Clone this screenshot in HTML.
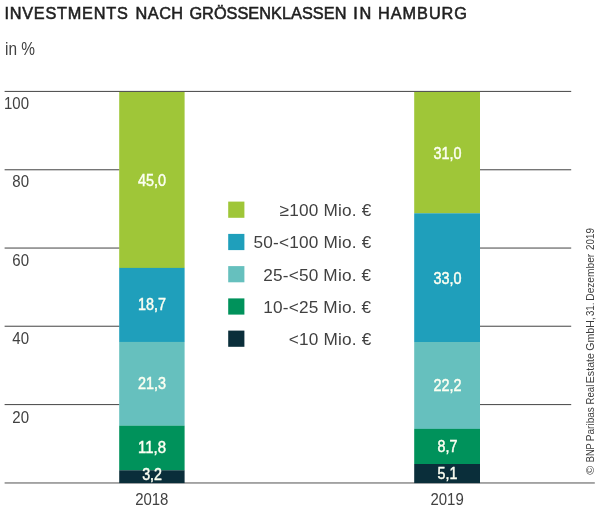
<!DOCTYPE html>
<html lang="de">
<head>
<meta charset="utf-8">
<title>Investments nach Größenklassen in Hamburg</title>
<style>
html,body{margin:0;padding:0;background:#fff;}
body{width:600px;height:514px;overflow:hidden;}
svg{display:block;}
text{font-family:"Liberation Sans",sans-serif;}
.title{font-size:16.3px;fill:#1f1f1f;stroke:#1f1f1f;stroke-width:0.55px;}
.sub{font-size:17.5px;fill:#414141;}
.ax{font-size:15.7px;fill:#414141;}
.leg{font-size:17.2px;fill:#414141;letter-spacing:0.2px;}
.val{font-size:15.7px;fill:#fcfff2;stroke:#fcfff2;stroke-width:0.45px;}
.src{font-size:11.3px;fill:#3c3c3c;}
</style>
</head>
<body>
<svg width="600" height="514" viewBox="0 0 600 514">
<rect x="0" y="0" width="600" height="514" fill="#ffffff"/>

<text class="title" y="18.7"><tspan x="4.4" textLength="123.4" lengthAdjust="spacing">INVESTMENTS</tspan> <tspan x="135.6" textLength="47.5" lengthAdjust="spacing">NACH</tspan> <tspan x="189.4" textLength="157" lengthAdjust="spacing">GRÖSSENKLASSEN</tspan> <tspan x="353.2" textLength="18" lengthAdjust="spacing">IN</tspan> <tspan x="378" textLength="89" lengthAdjust="spacing">HAMBURG</tspan></text>
<text class="sub" x="5" y="54.8" textLength="30" lengthAdjust="spacingAndGlyphs">in %</text>

<!-- grid lines -->
<g fill="#555555">
<rect x="4.6" y="90.9" width="566.6" height="1.1"/>
<rect x="4.6" y="169.2" width="115" height="1.1"/>
<rect x="4.6" y="247.5" width="115" height="1.1"/>
<rect x="4.6" y="325.7" width="115" height="1.1"/>
<rect x="4.6" y="404" width="115" height="1.1"/>
<rect x="480" y="169.2" width="91.2" height="1.1"/>
<rect x="480" y="247.5" width="91.2" height="1.1"/>
<rect x="480" y="325.7" width="91.2" height="1.1"/>
<rect x="480" y="404" width="91.2" height="1.1"/>
</g>
<rect x="4.6" y="482.2" width="590.2" height="1.5" fill="#8c8c8c"/>

<!-- y axis labels -->
<g class="ax" text-anchor="end">
<text x="29" y="108.9" textLength="25" lengthAdjust="spacingAndGlyphs">100</text>
<text x="29" y="187.2" textLength="16.7" lengthAdjust="spacingAndGlyphs">80</text>
<text x="29" y="265.6" textLength="16.7" lengthAdjust="spacingAndGlyphs">60</text>
<text x="29" y="343.9" textLength="16.7" lengthAdjust="spacingAndGlyphs">40</text>
<text x="29" y="422.5" textLength="16.7" lengthAdjust="spacingAndGlyphs">20</text>
</g>

<!-- bar 2018 -->
<g>
<rect x="119.2" y="92" width="65.4" height="176" fill="#9fc638"/>
<rect x="119.2" y="267.9" width="65.4" height="74.1" fill="#1f9fbb"/>
<rect x="119.2" y="341.9" width="65.4" height="83.9" fill="#66c0be"/>
<rect x="119.2" y="425.7" width="65.4" height="44.7" fill="#00925b"/>
<rect x="119.2" y="470.3" width="65.4" height="12.8" fill="#0a2e3a"/>
</g>
<!-- bar 2019 -->
<g>
<rect x="414.2" y="92" width="65.8" height="121.4" fill="#9fc638"/>
<rect x="414.2" y="213.3" width="65.8" height="128.8" fill="#1f9fbb"/>
<rect x="414.2" y="342" width="65.8" height="87" fill="#66c0be"/>
<rect x="414.2" y="428.9" width="65.8" height="35.2" fill="#00925b"/>
<rect x="414.2" y="464" width="65.8" height="19.1" fill="#0a2e3a"/>
</g>

<!-- values -->
<g class="val" text-anchor="middle">
<text x="152.1" y="185.7" textLength="28" lengthAdjust="spacingAndGlyphs">45,0</text>
<text x="152.1" y="310.2" textLength="28" lengthAdjust="spacingAndGlyphs">18,7</text>
<text x="152.1" y="389.2" textLength="28" lengthAdjust="spacingAndGlyphs">21,3</text>
<text x="152.1" y="453.2" textLength="28" lengthAdjust="spacingAndGlyphs">11,8</text>
<text x="152.1" y="479.6" textLength="19.8" lengthAdjust="spacingAndGlyphs">3,2</text>
<text x="447.5" y="159.4" textLength="28" lengthAdjust="spacingAndGlyphs">31,0</text>
<text x="447.5" y="284.1" textLength="28" lengthAdjust="spacingAndGlyphs">33,0</text>
<text x="447.5" y="391.3" textLength="28" lengthAdjust="spacingAndGlyphs">22,2</text>
<text x="447.5" y="451.6" textLength="19.8" lengthAdjust="spacingAndGlyphs">8,7</text>
<text x="447.5" y="479.3" textLength="19.8" lengthAdjust="spacingAndGlyphs">5,1</text>
</g>

<!-- x labels -->
<g class="ax" text-anchor="middle">
<text x="151.8" y="505.4" textLength="33.3" lengthAdjust="spacingAndGlyphs">2018</text>
<text x="447.1" y="505.4" textLength="33.3" lengthAdjust="spacingAndGlyphs">2019</text>
</g>

<!-- legend -->
<g>
<rect x="228.2" y="201.6" width="16.2" height="16.2" fill="#9fc638"/>
<rect x="228.2" y="233.9" width="16.2" height="16.2" fill="#1f9fbb"/>
<rect x="228.2" y="266.1" width="16.2" height="16.2" fill="#66c0be"/>
<rect x="228.2" y="298.4" width="16.2" height="16.2" fill="#00925b"/>
<rect x="228.2" y="330.6" width="16.2" height="16.2" fill="#0a2e3a"/>
</g>
<g class="leg" text-anchor="end">
<text x="371.4" y="216">≥100 Mio. €</text>
<text x="371.4" y="248.2">50-&lt;100 Mio. €</text>
<text x="371.4" y="280.5">25-&lt;50 Mio. €</text>
<text x="371.4" y="312.7">10-&lt;25 Mio. €</text>
<text x="371.4" y="345">&lt;10 Mio. €</text>
</g>

<!-- source -->
<text class="src" transform="translate(593.8,474.3) rotate(-90)" y="0"><tspan x="-0.5" textLength="9.0" lengthAdjust="spacingAndGlyphs">©</tspan> <tspan x="12.1" textLength="18.8" lengthAdjust="spacingAndGlyphs">BNP</tspan> <tspan x="33.1" textLength="34.1" lengthAdjust="spacingAndGlyphs">Paribas</tspan> <tspan x="69.9" textLength="19.7" lengthAdjust="spacingAndGlyphs">Real</tspan> <tspan x="91.1" textLength="30.1" lengthAdjust="spacingAndGlyphs">Estate</tspan> <tspan x="123.5" textLength="33.6" lengthAdjust="spacingAndGlyphs">GmbH,</tspan> <tspan x="158.3" textLength="13.4" lengthAdjust="spacingAndGlyphs">31.</tspan> <tspan x="173.6" textLength="46.9" lengthAdjust="spacingAndGlyphs">Dezember</tspan> <tspan x="224.4" textLength="21.8" lengthAdjust="spacingAndGlyphs">2019</tspan></text>
</svg>
</body>
</html>
